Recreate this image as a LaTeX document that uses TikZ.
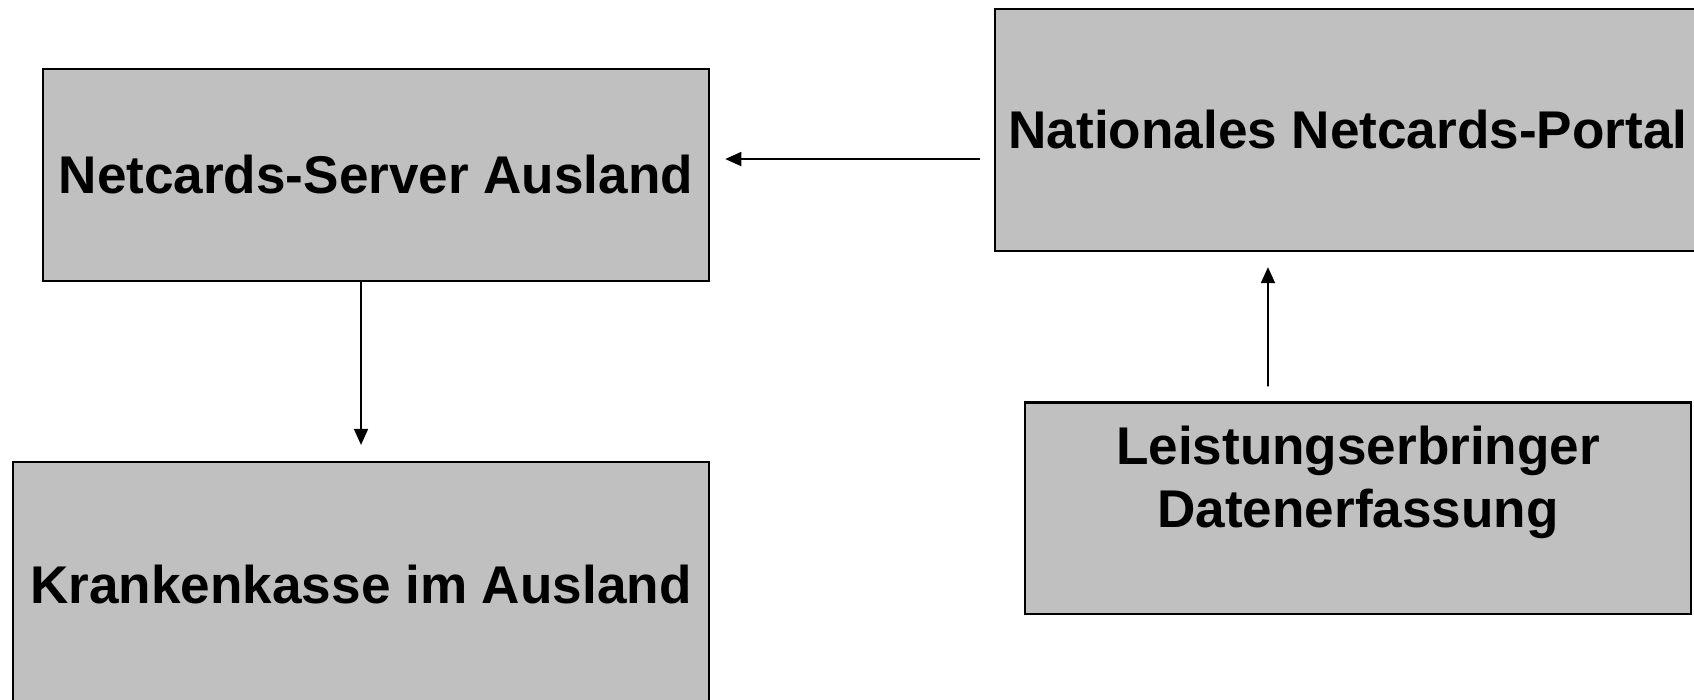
\documentclass[tikz,border=0pt]{standalone}
\usepackage{fontspec}
\setmainfont{Liberation Sans}
\usepackage{tikz}
\usetikzlibrary{positioning,arrows.meta,calc}
\definecolor{boxgray}{RGB}{192,192,192}

\begin{document}
\begin{tikzpicture}[
    x=0.01cm, y=-0.01cm,
    every node/.style={font=\fontsize{15.1pt}{17.9pt}\selectfont\bfseries},
    boxNode/.style={rectangle, draw=black, fill=boxgray, line width=0.6pt, inner sep=0pt, align=center},
    flowEdge/.style={draw=black, line width=0.5pt, -{Triangle[length=0.16cm, width=0.14cm]}}
]
    \useasboundingbox (0,0) rectangle (1694,699);

    \node [boxNode, minimum width=6.66cm, minimum height=2.12cm] (server) at (376,175) {Netcards-Server Ausland};
    \node [boxNode, minimum width=7.06cm, minimum height=2.42cm] (portal) at (1348,130) {Nationales Netcards-Portal};
    \node [boxNode, minimum width=6.96cm, minimum height=2.46cm] (kasse) at (361,585) {Krankenkasse im Ausland};
    \node [boxNode, minimum width=6.66cm, minimum height=2.11cm] (erbringer) at (1358,508) {Leistungserbringer\\Datenerfassung\\\mbox{}};

    \path [flowEdge] ([shift={(-0.14cm,-0.29cm)}]portal.west) -- ($(server.east |- portal.west)+(0.15cm,-0.29cm)$);
    \path [flowEdge] ([xshift=-0.15cm]server.south) -- ([yshift=0.16cm]kasse.north);
    \path [flowEdge] ([shift={(-0.9cm,0.15cm)}]erbringer.north) -- ([shift={(-0.8cm,-0.15cm)}]portal.south);
\end{tikzpicture}
\end{document}
